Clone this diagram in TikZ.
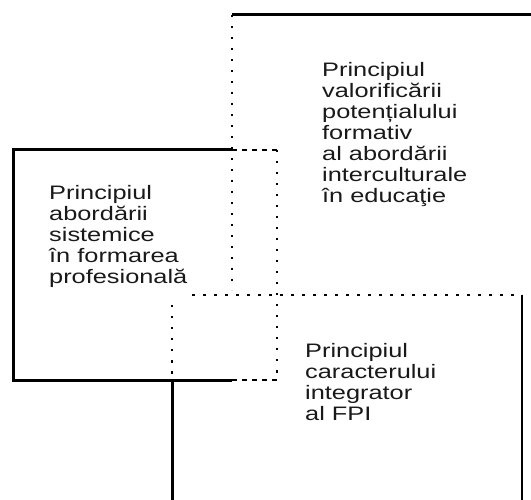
\documentclass[tikz,border=0pt]{standalone}
\usepackage{fontspec}
\setmainfont{Liberation Sans}[FakeStretch=1.3]

\begin{document}
\begin{tikzpicture}[x=1pt, y=-1pt,
    thickline/.style={line width=3pt},
    dotline/.style={line width=2.5pt, dash pattern=on 2.5pt off 8.5pt},
    dashline/.style={line width=2pt, dash pattern=on 5pt off 5pt},
    principle/.style={anchor=north west, inner sep=0pt, align=left, text=black!90,
        font=\fontsize{19.5}{21}\selectfont}]
    \useasboundingbox (0,0) rectangle (531,500);
    % corners of the three boxes
    \coordinate (tl) at (232,15);
    \coordinate (tr) at (531,15);
    \coordinate (lt) at (13,150);
    \coordinate (lb) at (13,380);
    \coordinate (rt) at (277,150);
    \coordinate (rb) at (277,380);
    \coordinate (bt) at (172,295);
    \coordinate (br) at (522,295);
    % top box
    \draw[thickline] (tl) -- (tr);
    \draw[dotline] (tl) -- (232,290);
    % left box
    \draw[thickline] (232,150) -- (lt) -- (lb) -- (232,380);
    \draw[dashline] (232,150) -- (rt);
    \draw[dashline] (232,380) -- (rb);
    \draw[dotline] (rt) -- (rb);
    % bottom box
    \draw[dotline] (192,295) -- (br);
    \draw[dotline] (172,305) -- (172,380);
    \draw[thickline] (172,380) -- (172,500);
    \draw[line width=2.5pt] (br) -- (522,500);
    % texts
    \node[principle] (pvalor) at (322,62) {Principiul\\valorificării\\potențialului\\formativ\\al abordării\\interculturale\\în educaţie};
    \node[principle] (psist) at (49,185) {Principiul\\abordării\\sistemice\\în formarea\\profesională};
    \node[principle] (pinteg) at (305,343) {Principiul\\caracterului\\integrator\\al FPI};
\end{tikzpicture}
\end{document}
